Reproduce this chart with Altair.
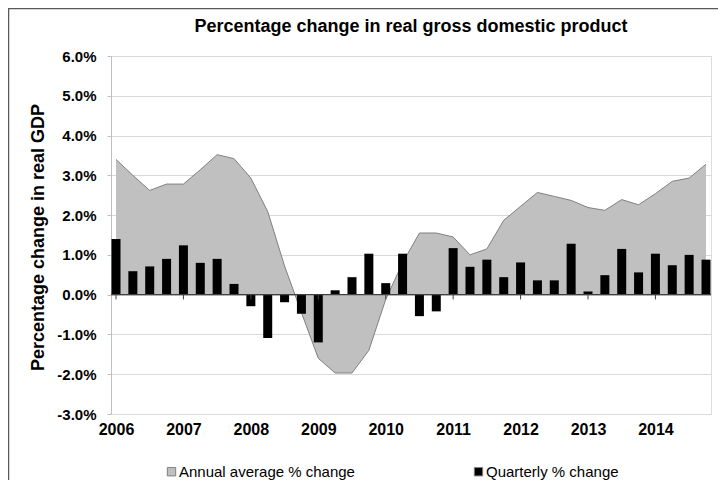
import altair as alt
import pandas as pd

years = [2006, 2007, 2008, 2009, 2010, 2011, 2012, 2013, 2014]
quarter_labels = [f"{y} Q{q}" for y in years for q in (1, 2, 3, 4)]

annual_avg = [
    3.40, 3.00, 2.62, 2.78,
    2.78, 3.14, 3.52, 3.42,
    2.93, 2.09, 0.72, -0.45,
    -1.60, -1.97, -1.97, -1.40,
    -0.12, 0.80, 1.55, 1.55,
    1.45, 1.00, 1.15, 1.87,
    2.22, 2.57, 2.47, 2.37,
    2.19, 2.12, 2.39, 2.26,
    2.54, 2.85, 2.93, 3.28,
]

quarterly = [
    1.40, 0.59, 0.71, 0.90,
    1.24, 0.80, 0.90, 0.27,
    -0.29, -1.09, -0.19, -0.48,
    -1.20, 0.11, 0.44, 1.03,
    0.29, 1.03, -0.54, -0.42,
    1.17, 0.70, 0.88, 0.44,
    0.81, 0.36, 0.36, 1.28,
    0.08, 0.49, 1.15, 0.56,
    1.03, 0.74, 1.00, 0.88,
]

series_names = ["Annual average % change", "Quarterly % change"]
series_colors = ["#c0c0c0", "#000000"]
y_ticks = [-3, -2, -1, 0, 1, 2, 3, 4, 5, 6]
chart_title = "Percentage change in real gross domestic product"

def pos(label):
    y, q = label.split(" Q")
    return int(y) + (int(q) - 1) / 4

df = pd.DataFrame({
    "quarter": quarter_labels,
    "t": [pos(l) for l in quarter_labels],
    "annual": annual_avg,
    "quarterly": quarterly,
})
df["s_annual"] = series_names[0]
df["s_quarterly"] = series_names[1]

FONT = "Liberation Sans"

x_scale = alt.Scale(domain=[2006, 2014.75], nice=False, zero=False)
y_scale = alt.Scale(domain=[-3, 6], nice=False)
color_scale = alt.Scale(domain=series_names, range=series_colors)

x_axis = alt.Axis(values=years, format="d", title=None, grid=False, ticks=False,
                  domain=False, labelFontSize=16, labelFontWeight="bold",
                  labelFont=FONT, labelColor="black", labelPadding=7,
                  labelFlush=False, labelOverlap=False)
y_axis = alt.Axis(values=y_ticks,
                  labelExpr="(datum.value < 0 ? '-' : '') + format(abs(datum.value), '.1f') + '%'",
                  title="Percentage change in real GDP", titleFont=FONT,
                  titleFontSize=18, titleFontWeight="bold", titleColor="black",
                  titleX=-73, titleY=181, titleAlign="center", titleBaseline="middle",
                  titleAngle=270,
                  grid=True, gridColor="#d9d9d9", domainColor="#bfbfbf",
                  tickColor="#bfbfbf", tickSize=4, labelFontSize=15,
                  labelFontWeight="bold", labelFont=FONT, labelColor="black",
                  labelPadding=11, labelOverlap=False, labelBound=False)

base = alt.Chart(df)

area = base.mark_area(opacity=1).encode(
    x=alt.X("t:Q", scale=x_scale, axis=x_axis),
    y=alt.Y("annual:Q", scale=y_scale, axis=y_axis),
    color=alt.Color("s_annual:N", scale=color_scale, legend=alt.Legend(
        title=None, orient="none", legendX=53, legendY=408, direction="horizontal",
        columns=2, columnPadding=116, labelFontSize=15, labelFont=FONT,
        labelColor="black", symbolType="square", symbolSize=70,
        symbolStrokeColor="#7f7f7f", symbolStrokeWidth=1, labelOffset=0,
        padding=0, labelLimit=400)),
)

area_line = base.mark_line(color="#808080", strokeWidth=1).encode(
    x=alt.X("t:Q", scale=x_scale, axis=x_axis),
    y=alt.Y("annual:Q", scale=y_scale, axis=y_axis),
)

bars = base.mark_bar(size=9, clip=True).encode(
    x=alt.X("t:Q", scale=x_scale, axis=x_axis),
    y=alt.Y("quarterly:Q", scale=y_scale, axis=y_axis),
    color=alt.Color("s_quarterly:N", scale=color_scale),
)

zero_line = alt.Chart(pd.DataFrame({"z": [0]})).mark_rule(
    color="#404040", strokeWidth=1.3).encode(
    y=alt.Y("z:Q", scale=y_scale, axis=y_axis))

year_ticks = alt.Chart(pd.DataFrame({"yr": years, "y0": [0] * 9, "y1": [-0.12] * 9})).mark_rule(
    color="#404040", strokeWidth=1).encode(
    x=alt.X("yr:Q", scale=x_scale, axis=x_axis),
    y=alt.Y("y0:Q", scale=y_scale, axis=y_axis),
    y2="y1:Q",
)

frame = alt.Chart(pd.DataFrame({"f": [1]})).mark_rect(
    fill=None, stroke="#595959", strokeWidth=1.5).encode(
    x=alt.value(-102.5), x2=alt.value(608), y=alt.value(-47.5), y2=alt.value(520))

title_text = alt.Chart(pd.DataFrame({"title": [chart_title]})).mark_text(
    font=FONT, fontSize=18, fontWeight="bold", color="black",
    align="center", baseline="alphabetic").encode(
    text="title:N", x=alt.value(300), y=alt.value(-24))

chart = alt.layer(area, area_line, bars, zero_line, year_ticks, frame, title_text).properties(
    width=600, height=358,
    autosize=alt.AutoSizeParams(type="none"),
    padding={"left": 103, "top": 48, "right": 7, "bottom": 66},
).configure_view(stroke="#bfbfbf").configure(background="white").configure_axisY(
    labelOverlap=False)

chart.save("out.html", embed_options={"renderer": "svg", "actions": False})
